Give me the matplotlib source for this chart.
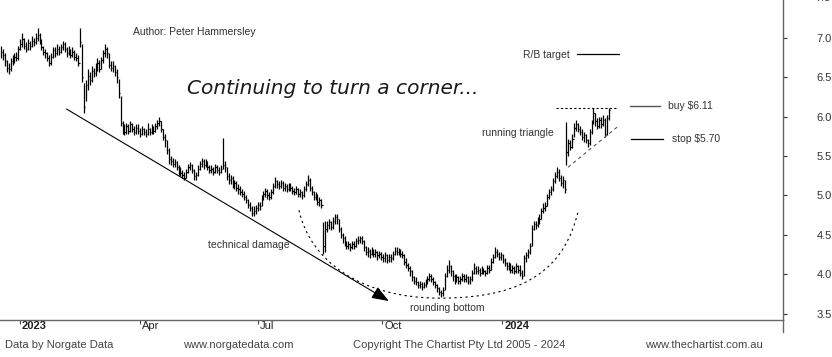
import numpy as np
import matplotlib.pyplot as plt
import matplotlib.transforms as mtransforms
from matplotlib.path import Path
from matplotlib.patches import PathPatch

# daily bars, Dec 2022 -> Apr 2024
high = [6.90, 6.86, 6.80, 6.72, 6.68, 6.74, 6.78, 6.80, 6.82, 6.90,
        6.98, 7.06, 7.00, 6.94, 6.98, 6.96, 7.02, 7.00, 7.06, 7.12,
        7.06, 6.98, 6.90, 6.86, 6.82, 6.78, 6.80, 6.88, 6.88, 6.92,
        6.90, 6.92, 6.96, 6.94, 6.88, 6.90, 6.86, 6.88, 6.84, 6.80,
        6.78, 7.12, 6.92, 6.42, 6.46, 6.60, 6.56, 6.64, 6.62, 6.68,
        6.74, 6.72, 6.76, 6.84, 6.92, 6.88, 6.80, 6.70, 6.70, 6.66,
        6.60, 6.48, 6.26, 5.94, 5.90, 5.92, 5.90, 5.94, 5.92, 5.88,
        5.90, 5.90, 5.86, 5.88, 5.86, 5.84, 5.92, 5.86, 5.90, 5.88,
        5.92, 5.96, 5.99, 5.94, 5.84, 5.78, 5.70, 5.60, 5.50, 5.48,
        5.46, 5.44, 5.38, 5.36, 5.32, 5.30, 5.34, 5.40, 5.42, 5.40,
        5.34, 5.30, 5.38, 5.44, 5.48, 5.46, 5.46, 5.44, 5.38, 5.38,
        5.36, 5.40, 5.38, 5.36, 5.38, 5.73, 5.44, 5.36, 5.28, 5.26,
        5.24, 5.20, 5.18, 5.14, 5.12, 5.08, 5.06, 5.00, 4.96, 4.92,
        4.86, 4.86, 4.88, 4.92, 4.92, 5.00, 5.06, 5.10, 5.08, 5.04,
        5.08, 5.16, 5.23, 5.20, 5.18, 5.20, 5.18, 5.16, 5.14, 5.16,
        5.16, 5.12, 5.10, 5.12, 5.10, 5.08, 5.06, 5.12, 5.18, 5.26,
        5.22, 5.12, 5.06, 5.04, 5.02, 4.98, 4.96, 4.66, 4.68, 4.68,
        4.70, 4.68, 4.72, 4.77, 4.76, 4.70, 4.60, 4.52, 4.48, 4.42,
        4.42, 4.40, 4.42, 4.42, 4.46, 4.48, 4.49, 4.48, 4.44, 4.36,
        4.34, 4.32, 4.34, 4.32, 4.32, 4.30, 4.30, 4.28, 4.26, 4.28,
        4.26, 4.26, 4.26, 4.30, 4.34, 4.34, 4.33, 4.32, 4.30, 4.26,
        4.20, 4.14, 4.10, 4.06, 3.98, 3.96, 3.92, 3.92, 3.90, 3.90,
        3.94, 3.98, 4.02, 4.00, 3.96, 3.92, 3.88, 3.84, 3.80, 3.84,
        4.02, 4.12, 4.18, 4.12, 4.06, 4.00, 4.00, 3.98, 3.98, 4.02,
        4.00, 4.00, 3.98, 3.98, 4.06, 4.14, 4.10, 4.10, 4.08, 4.10,
        4.08, 4.06, 4.12, 4.12, 4.20, 4.26, 4.34, 4.32, 4.28, 4.28,
        4.26, 4.20, 4.16, 4.16, 4.14, 4.12, 4.10, 4.14, 4.12, 4.12,
        4.06, 4.24, 4.28, 4.32, 4.40, 4.62, 4.68, 4.68, 4.72, 4.76,
        4.84, 4.90, 4.92, 5.02, 5.08, 5.12, 5.22, 5.30, 5.36, 5.34,
        5.26, 5.24, 5.20, 5.93, 5.72, 5.70, 5.78, 5.92, 5.95, 5.92,
        5.88, 5.84, 5.80, 5.78, 5.72, 5.84, 5.96, 6.11, 6.04, 5.98,
        6.00, 6.00, 6.02, 5.98, 6.02, 6.11]

low = [6.74, 6.72, 6.64, 6.56, 6.54, 6.58, 6.66, 6.68, 6.70, 6.72,
       6.84, 6.88, 6.86, 6.82, 6.84, 6.84, 6.88, 6.90, 6.92, 6.96,
       6.92, 6.84, 6.78, 6.74, 6.70, 6.64, 6.66, 6.74, 6.76, 6.78,
       6.78, 6.80, 6.84, 6.82, 6.76, 6.78, 6.74, 6.76, 6.72, 6.70,
       6.64, 6.88, 6.44, 6.04, 6.20, 6.34, 6.40, 6.44, 6.50, 6.52,
       6.58, 6.56, 6.60, 6.68, 6.76, 6.74, 6.62, 6.58, 6.56, 6.52,
       6.42, 6.24, 5.88, 5.78, 5.76, 5.78, 5.78, 5.80, 5.80, 5.76,
       5.78, 5.78, 5.74, 5.76, 5.76, 5.74, 5.76, 5.76, 5.78, 5.78,
       5.80, 5.84, 5.88, 5.80, 5.70, 5.62, 5.52, 5.40, 5.38, 5.36,
       5.36, 5.32, 5.26, 5.24, 5.22, 5.19, 5.22, 5.28, 5.32, 5.28,
       5.20, 5.20, 5.24, 5.32, 5.36, 5.34, 5.36, 5.32, 5.28, 5.28,
       5.26, 5.28, 5.28, 5.26, 5.28, 5.34, 5.30, 5.20, 5.14, 5.14,
       5.10, 5.08, 5.06, 5.02, 5.00, 4.98, 4.94, 4.90, 4.84, 4.80,
       4.74, 4.74, 4.76, 4.80, 4.82, 4.86, 4.94, 4.98, 4.96, 4.94,
       4.96, 5.02, 5.10, 5.10, 5.08, 5.10, 5.06, 5.06, 5.04, 5.06,
       5.06, 5.02, 5.00, 5.02, 4.98, 4.98, 4.96, 4.98, 5.06, 5.12,
       5.06, 5.00, 4.94, 4.94, 4.88, 4.86, 4.84, 4.26, 4.28, 4.54,
       4.58, 4.56, 4.58, 4.64, 4.64, 4.54, 4.46, 4.40, 4.36, 4.32,
       4.32, 4.30, 4.32, 4.32, 4.34, 4.38, 4.40, 4.38, 4.30, 4.24,
       4.22, 4.20, 4.24, 4.22, 4.22, 4.18, 4.20, 4.18, 4.16, 4.16,
       4.14, 4.16, 4.16, 4.18, 4.24, 4.24, 4.24, 4.22, 4.20, 4.12,
       4.08, 4.04, 3.98, 3.92, 3.88, 3.86, 3.82, 3.82, 3.80, 3.82,
       3.84, 3.88, 3.92, 3.90, 3.86, 3.82, 3.78, 3.74, 3.71, 3.72,
       3.80, 3.96, 4.02, 3.98, 3.92, 3.88, 3.90, 3.88, 3.88, 3.92,
       3.90, 3.90, 3.88, 3.88, 3.92, 4.00, 4.00, 4.00, 3.98, 4.00,
       4.00, 3.98, 4.00, 4.02, 4.06, 4.14, 4.20, 4.22, 4.18, 4.18,
       4.14, 4.10, 4.06, 4.06, 4.02, 4.02, 4.00, 4.02, 4.02, 3.98,
       3.94, 3.98, 4.16, 4.20, 4.26, 4.36, 4.56, 4.58, 4.60, 4.64,
       4.70, 4.78, 4.80, 4.86, 4.96, 5.00, 5.06, 5.16, 5.22, 5.18,
       5.12, 5.10, 5.03, 5.38, 5.50, 5.58, 5.60, 5.74, 5.82, 5.80,
       5.76, 5.70, 5.68, 5.66, 5.61, 5.64, 5.78, 5.90, 5.88, 5.84,
       5.86, 5.86, 5.88, 5.74, 5.76, 5.96]

close = [6.82, 6.78, 6.70, 6.62, 6.60, 6.70, 6.72, 6.76, 6.74, 6.86,
         6.92, 6.98, 6.90, 6.86, 6.93, 6.90, 6.96, 6.94, 7.00, 7.04,
         6.96, 6.88, 6.82, 6.80, 6.74, 6.68, 6.76, 6.84, 6.80, 6.86,
         6.82, 6.88, 6.92, 6.86, 6.80, 6.84, 6.78, 6.82, 6.76, 6.74,
         6.68, 6.94, 6.50, 6.12, 6.40, 6.52, 6.46, 6.58, 6.55, 6.62,
         6.68, 6.60, 6.72, 6.80, 6.86, 6.80, 6.66, 6.62, 6.64, 6.56,
         6.50, 6.30, 5.92, 5.86, 5.80, 5.88, 5.82, 5.90, 5.84, 5.80,
         5.86, 5.82, 5.78, 5.84, 5.80, 5.78, 5.84, 5.80, 5.86, 5.82,
         5.88, 5.92, 5.94, 5.84, 5.74, 5.70, 5.58, 5.46, 5.44, 5.40,
         5.42, 5.36, 5.32, 5.28, 5.26, 5.22, 5.30, 5.36, 5.38, 5.32,
         5.24, 5.26, 5.34, 5.40, 5.44, 5.38, 5.42, 5.36, 5.32, 5.34,
         5.30, 5.36, 5.32, 5.30, 5.34, 5.38, 5.36, 5.24, 5.20, 5.22,
         5.14, 5.16, 5.10, 5.08, 5.04, 5.02, 4.98, 4.94, 4.88, 4.84,
         4.78, 4.80, 4.84, 4.88, 4.86, 4.96, 5.02, 5.06, 5.00, 4.98,
         5.04, 5.12, 5.18, 5.14, 5.12, 5.16, 5.10, 5.12, 5.08, 5.12,
         5.10, 5.06, 5.04, 5.08, 5.02, 5.04, 5.00, 5.08, 5.14, 5.20,
         5.10, 5.04, 4.98, 5.00, 4.92, 4.94, 4.88, 4.36, 4.58, 4.62,
         4.66, 4.60, 4.68, 4.72, 4.70, 4.58, 4.50, 4.46, 4.40, 4.36,
         4.38, 4.34, 4.38, 4.36, 4.42, 4.44, 4.46, 4.42, 4.34, 4.28,
         4.30, 4.26, 4.30, 4.26, 4.28, 4.24, 4.26, 4.22, 4.20, 4.24,
         4.18, 4.22, 4.20, 4.26, 4.30, 4.28, 4.30, 4.26, 4.24, 4.16,
         4.12, 4.08, 4.04, 3.96, 3.92, 3.90, 3.86, 3.88, 3.84, 3.86,
         3.90, 3.94, 3.98, 3.94, 3.90, 3.86, 3.82, 3.78, 3.76, 3.80,
         3.98, 4.06, 4.10, 4.04, 3.98, 3.94, 3.96, 3.92, 3.94, 3.98,
         3.94, 3.96, 3.92, 3.94, 4.02, 4.08, 4.04, 4.06, 4.02, 4.06,
         4.04, 4.02, 4.08, 4.06, 4.16, 4.22, 4.28, 4.26, 4.22, 4.24,
         4.18, 4.14, 4.10, 4.12, 4.06, 4.08, 4.04, 4.10, 4.06, 4.02,
         3.98, 4.20, 4.24, 4.28, 4.36, 4.58, 4.64, 4.62, 4.68, 4.70,
         4.80, 4.84, 4.86, 4.98, 5.04, 5.08, 5.18, 5.24, 5.30, 5.22,
         5.16, 5.20, 5.08, 5.55, 5.66, 5.62, 5.72, 5.86, 5.90, 5.84,
         5.80, 5.74, 5.76, 5.70, 5.66, 5.80, 5.92, 6.04, 5.94, 5.88,
         5.96, 5.90, 5.96, 5.78, 5.98, 6.08]

# x axis: bar index of first trading day of each quarter
date_ticks = [9.8, 72.0, 133.0, 197.6, 259.7]
date_labels = ['2023', 'Apr', 'Jul', 'Oct', '2024']
price_ticks = [3.5, 4.0, 4.5, 5.0, 5.5, 6.0, 6.5, 7.0]

fig = plt.figure(figsize=(8.32, 3.57), dpi=100)
ax = fig.add_axes([0, 37 / 357, 783 / 832, 320 / 357])

idx = np.arange(len(close))
ax.vlines(idx, low, high, color='black', lw=0.9)
ax.hlines(close, idx, idx + 0.7, color='black', lw=0.9)

ax.set_xlim(-0.5, 405.2)
ax.set_ylim(3.42, 7.478)

for s in ['left', 'top']:
    ax.spines[s].set_visible(False)
for s in ['right', 'bottom']:
    ax.spines[s].set_color('#666666')
    ax.spines[s].set_linewidth(1.0)
ax.plot([1, 1], [0, -12 / 320], transform=ax.transAxes, clip_on=False,
        color='#666666', lw=1.0)

# price axis on the right
ax.yaxis.tick_right()
ax.set_yticks(price_ticks)
ax.set_yticklabels(['%.1f' % v for v in price_ticks], family='Liberation Sans')
ax.tick_params(axis='y', direction='out', length=3, pad=21, labelsize=8,
               colors='#333333', width=0.8)
ax.annotate('7.5', xy=(1, 7.5), xycoords=('axes fraction', 'data'),
            xytext=(23.2, 0), textcoords='offset points', va='center',
            ha='left', fontsize=8, color='#333333', family='Liberation Sans',
            annotation_clip=False)

# date axis
ax.set_xticks(date_ticks)
ax.set_xticklabels([])
ax.tick_params(axis='x', direction='out', length=3, width=0.8, color='#444444')
trans = mtransforms.blended_transform_factory(ax.transData, ax.transAxes)
off = mtransforms.ScaledTranslation(2 / 100, -1 / 100, fig.dpi_scale_trans)
for pos, lab in zip(date_ticks, date_labels):
    ax.text(pos, 0, lab, transform=trans + off, ha='left', va='top',
            fontsize=8, color='#222222', family='Liberation Sans',
            fontweight='bold' if lab.isdigit() else 'normal')

lab_font = dict(fontsize=7.5, color='#333333', family='Liberation Sans')

ax.text(68.4, 7.07, 'Author: Peter Hammersley', va='center', **lab_font)
ax.text(96.4, 6.36, 'Continuing to turn a corner...', va='center',
        fontsize=14.5, style='italic', color='#1a1a1a', family='DejaVu Sans')

# down trendline with arrow
ax.annotate('', xy=(201.0, 3.66), xytext=(34.0, 6.095),
            arrowprops=dict(arrowstyle='-|>,head_length=0.75,head_width=0.28',
                            color='black', lw=0.8, mutation_scale=14,
                            shrinkA=0, shrinkB=0))
ax.text(107.3, 4.376, 'technical damage', va='center', **lab_font)

# rounding bottom arc
verts = [(154.4, 4.812), (160.1, 4.178), (186.0, 3.697), (227.5, 3.697),
         (274.1, 3.697), (292.2, 4.116), (298.96, 4.788)]
codes = [Path.MOVETO] + [Path.CURVE4] * 6
ax.add_patch(PathPatch(Path(verts, codes), fill=False, edgecolor='black',
                       lw=0.8, linestyle=(0, (2, 3))))
ax.text(211.9, 3.57, 'rounding bottom', va='center', **lab_font)

# running triangle
ax.plot([287.6, 319.7], [6.11, 6.11], color='black', lw=0.8,
        linestyle=(0, (2, 2)))
ax.plot([293.8, 319.2], [5.357, 5.865], color='#555555', lw=0.8,
        linestyle=(0, (3, 3)))
ax.text(286.5, 5.79, 'running triangle', ha='right', va='center', **lab_font)

# levels
ax.plot([298.4, 320.2], [6.793, 6.793], color='black', lw=0.9)
ax.text(294.8, 6.78, 'R/B target', ha='right', va='center', **lab_font)
ax.plot([325.9, 341.5], [6.13, 6.13], color='#555555', lw=1.0)
ax.text(345.6, 6.14, 'buy $6.11', va='center', **lab_font)
ax.plot([326.4, 343.0], [5.714, 5.714], color='black', lw=0.9)
ax.text(347.7, 5.714, 'stop $5.70', va='center', **lab_font)

# footer
foot = dict(fontsize=8, color='#444444', va='center', family='Liberation Sans')
fig.text(5 / 832, 12 / 357, 'Data by Norgate Data', **foot)
fig.text(183 / 832, 12 / 357, 'www.norgatedata.com', **foot)
fig.text(353 / 832, 12 / 357, 'Copyright The Chartist Pty Ltd 2005 - 2024', **foot)
fig.text(645 / 832, 12 / 357, 'www.thechartist.com.au', **foot)

fig.savefig('out.png', dpi=100)
